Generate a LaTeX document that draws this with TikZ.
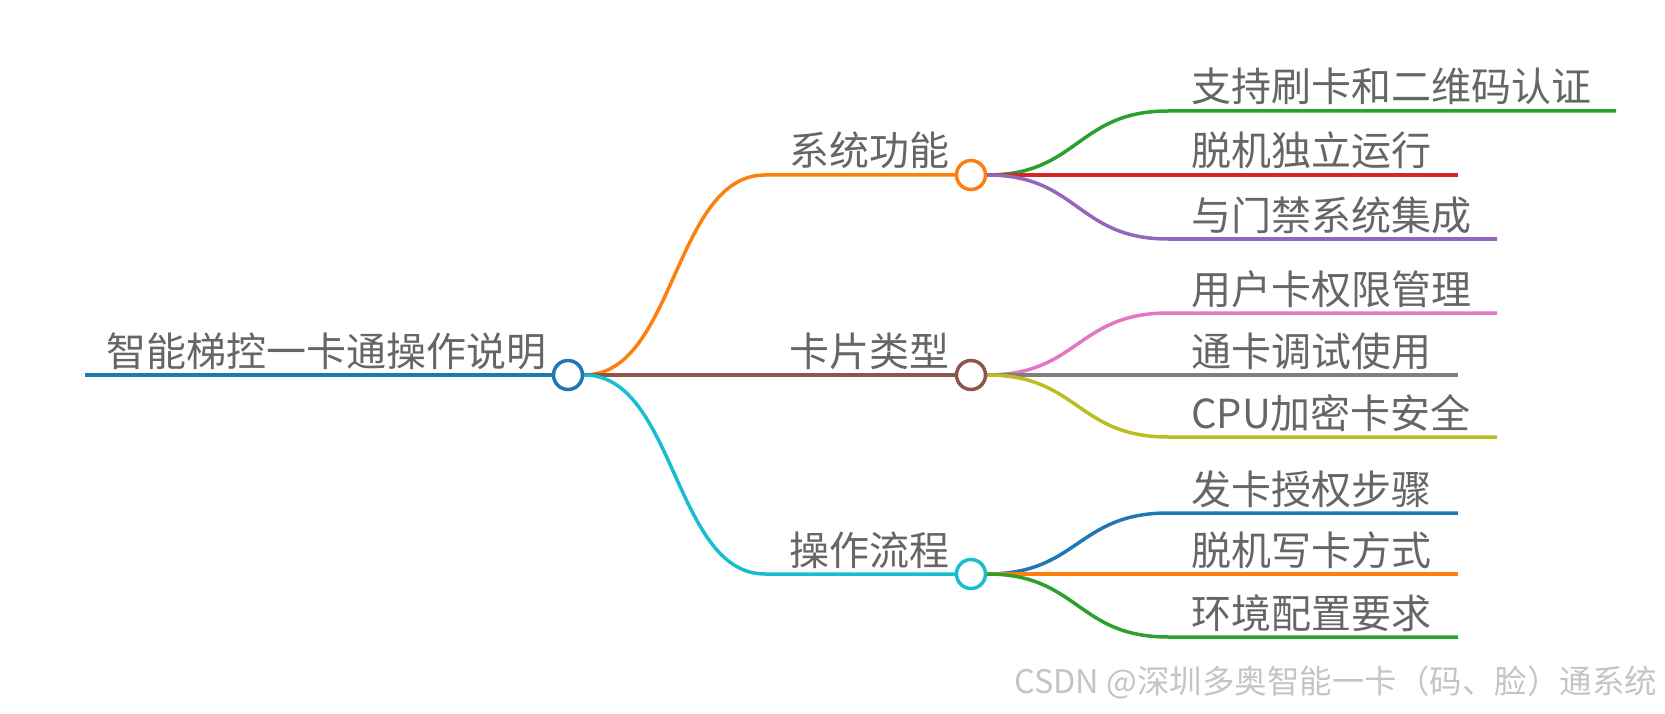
\documentclass[tikz,border=0pt]{standalone}
\usepackage{fontspec}
\setmainfont{Noto Sans CJK SC}
\definecolor{cblue}{HTML}{1F77B4}
\definecolor{corange}{HTML}{FF7F0E}
\definecolor{cgreen}{HTML}{2CA02C}
\definecolor{cred}{HTML}{D62728}
\definecolor{cpurple}{HTML}{9467BD}
\definecolor{cbrown}{HTML}{8C564B}
\definecolor{cpink}{HTML}{E377C2}
\definecolor{cgray}{HTML}{7F7F7F}
\definecolor{colive}{HTML}{BCBD22}
\definecolor{ccyan}{HTML}{17BECF}
\definecolor{txt}{HTML}{666666}
\definecolor{wm}{HTML}{C4C4C4}
\begin{document}
\begin{tikzpicture}[x=1pt,y=-1pt,
  lbl/.style={anchor=base west, inner sep=0pt, text=txt, font=\fontsize{40}{48}\selectfont},
  dot/.style={circle, draw, line width=3.5pt, fill=white, minimum size=29pt, inner sep=0pt},
  edge/.style={line width=3.5pt}]
\useasboundingbox (0,0) rectangle (1665,714);
\clip (0,0) rectangle (1665,714);
% root
\node[dot, draw=cblue] (R) at (568,375) {};
\coordinate (r0) at (85,375);
\node[lbl] (rt) at (106,366) {智能梯控一卡通操作说明};
% level 1
\node[dot, draw=corange] (A) at (971,175) {};
\node[dot, draw=cbrown] (B) at (971,375) {};
\node[dot, draw=ccyan] (C) at (971,574) {};
\coordinate (a0) at (765,175);
\coordinate (b0) at (765,375);
\coordinate (c0) at (765,574);
\node[lbl] (at) at (789,166) {系统功能};
\node[lbl] (bt) at (789,366) {卡片类型};
\node[lbl] (ct) at (789,565) {操作流程};
% level 2 coordinates
\coordinate (a1s) at (1168,111); \coordinate (a1e) at (1616,111);
\coordinate (a2s) at (1168,175); \coordinate (a2e) at (1458,175);
\coordinate (a3s) at (1168,239); \coordinate (a3e) at (1497,239);
\coordinate (b1s) at (1168,313); \coordinate (b1e) at (1497,313);
\coordinate (b2s) at (1168,375); \coordinate (b2e) at (1458,375);
\coordinate (b3s) at (1168,437); \coordinate (b3e) at (1497,437);
\coordinate (c1s) at (1168,513); \coordinate (c1e) at (1458,513);
\coordinate (c2s) at (1168,574); \coordinate (c2e) at (1458,574);
\coordinate (c3s) at (1168,637); \coordinate (c3e) at (1458,637);
\node[lbl] (a1t) at (1191,102) {支持刷卡和二维码认证};
\node[lbl] (a2t) at (1191,166) {脱机独立运行};
\node[lbl] (a3t) at (1191,230) {与门禁系统集成};
\node[lbl] (b1t) at (1191,304) {用户卡权限管理};
\node[lbl] (b2t) at (1191,366) {通卡调试使用};
\node[lbl] (b3t) at (1191,428) {CPU加密卡安全};
\node[lbl] (c1t) at (1191,504) {发卡授权步骤};
\node[lbl] (c2t) at (1191,565) {脱机写卡方式};
\node[lbl] (c3t) at (1191,628) {环境配置要求};
% edges
\draw[edge, cblue] (r0) -- (R.west);
\draw[edge, corange] (R.east) .. controls +(91,0) and +(-91,0) .. (a0) -- (A.west);
\draw[edge, cbrown] (R.east) -- (b0) -- (B.west);
\draw[edge, ccyan] (R.east) .. controls +(91,0) and +(-91,0) .. (c0) -- (C.west);
\draw[edge, cgreen] (A.east) .. controls +(91,0) and +(-91,0) .. (a1s) -- (a1e);
\draw[edge, cred] (A.east) -- (a2s) -- (a2e);
\draw[edge, cpurple] (A.east) .. controls +(91,0) and +(-91,0) .. (a3s) -- (a3e);
\draw[edge, cpink] (B.east) .. controls +(91,0) and +(-91,0) .. (b1s) -- (b1e);
\draw[edge, cgray] (B.east) -- (b2s) -- (b2e);
\draw[edge, colive] (B.east) .. controls +(91,0) and +(-91,0) .. (b3s) -- (b3e);
\draw[edge, cblue] (C.east) .. controls +(91,0) and +(-91,0) .. (c1s) -- (c1e);
\draw[edge, corange] (C.east) -- (c2s) -- (c2e);
\draw[edge, cgreen] (C.east) .. controls +(91,0) and +(-91,0) .. (c3s) -- (c3e);
% watermark
\node[anchor=west, inner sep=0pt, text=wm, font=\fontsize{32.5}{38}\selectfont] (wmk) at (1014,682) {CSDN @深圳多奥智能一卡（码、脸）通系统};
\end{tikzpicture}
\end{document}
